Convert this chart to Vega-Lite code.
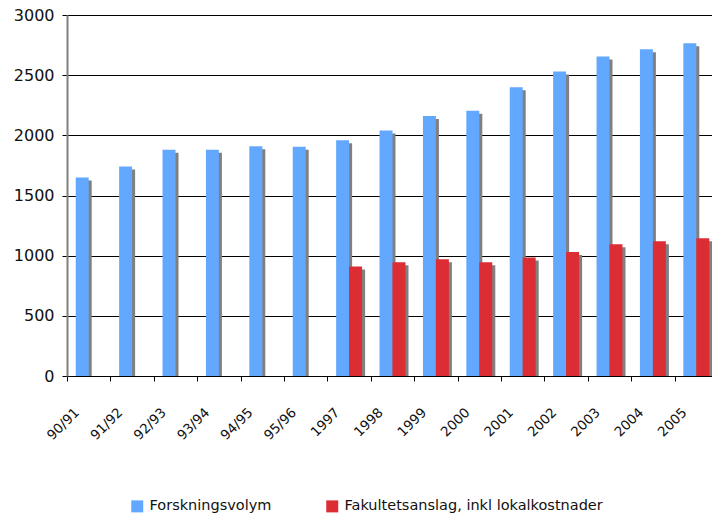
{
  "$schema": "https://vega.github.io/schema/vega-lite/v6.json",
  "autosize": "none",
  "padding": {"left": 67, "top": 15, "right": 0, "bottom": 147},
  "width": 651,
  "height": 361,
  "background": "white",
  "config": {"view": {"stroke": null}, "font": "DejaVu Sans"},
  "data": {"values": [
    {"year": "90/91", "series": "Forskningsvolym", "value": 1650},
    {"year": "91/92", "series": "Forskningsvolym", "value": 1740},
    {"year": "92/93", "series": "Forskningsvolym", "value": 1880},
    {"year": "93/94", "series": "Forskningsvolym", "value": 1880},
    {"year": "94/95", "series": "Forskningsvolym", "value": 1910},
    {"year": "95/96", "series": "Forskningsvolym", "value": 1905},
    {"year": "1997", "series": "Forskningsvolym", "value": 1960},
    {"year": "1998", "series": "Forskningsvolym", "value": 2040},
    {"year": "1999", "series": "Forskningsvolym", "value": 2160},
    {"year": "2000", "series": "Forskningsvolym", "value": 2205},
    {"year": "2001", "series": "Forskningsvolym", "value": 2400},
    {"year": "2002", "series": "Forskningsvolym", "value": 2530},
    {"year": "2003", "series": "Forskningsvolym", "value": 2655},
    {"year": "2004", "series": "Forskningsvolym", "value": 2715},
    {"year": "2005", "series": "Forskningsvolym", "value": 2765},
    {"year": "1997", "series": "Fakultetsanslag, inkl lokalkostnader", "value": 910},
    {"year": "1998", "series": "Fakultetsanslag, inkl lokalkostnader", "value": 945},
    {"year": "1999", "series": "Fakultetsanslag, inkl lokalkostnader", "value": 970},
    {"year": "2000", "series": "Fakultetsanslag, inkl lokalkostnader", "value": 945},
    {"year": "2001", "series": "Fakultetsanslag, inkl lokalkostnader", "value": 985},
    {"year": "2002", "series": "Fakultetsanslag, inkl lokalkostnader", "value": 1030},
    {"year": "2003", "series": "Fakultetsanslag, inkl lokalkostnader", "value": 1095},
    {"year": "2004", "series": "Fakultetsanslag, inkl lokalkostnader", "value": 1120},
    {"year": "2005", "series": "Fakultetsanslag, inkl lokalkostnader", "value": 1145}
  ]},
  "encoding": {
    "x": {
      "field": "year", "type": "nominal", "sort": null,
      "scale": {"paddingInner": 0, "paddingOuter": 0},
      "axis": {
        "title": null, "tickBand": "extent", "labelAngle": -45, "labelAlign": "right",
        "labelBaseline": "middle", "labelFontSize": 13.5, "labelPadding": 29, "labelOffset": -12,
        "tickSize": 5, "tickColor": "#000", "domainColor": "#000", "labelColor": "#111", "grid": false
      }
    },
    "y": {
      "field": "value", "type": "quantitative", "stack": null,
      "scale": {"domain": [0, 3000], "nice": false},
      "axis": {
        "title": null, "values": [0, 500, 1000, 1500, 2000, 2500, 3000], "format": "d",
        "tickSize": 5, "tickColor": "#000", "domainColor": "#808080", "domainWidth": 2,
        "gridColor": "#000", "gridWidth": 1, "labelFontSize": 16, "labelPadding": 8, "labelColor": "#111"
      }
    }
  },
  "layer": [
    {
      "transform": [{"filter": "datum.series === 'Forskningsvolym'"}],
      "mark": {"type": "bar", "color": "#808080", "width": {"band": 0.3}, "xOffset": -3.5, "yOffset": 3, "y2Offset": 0}
    },
    {
      "transform": [{"filter": "datum.series !== 'Forskningsvolym'"}],
      "mark": {"type": "bar", "color": "#808080", "width": {"band": 0.3}, "xOffset": 9.5, "yOffset": 3, "y2Offset": 0}
    },
    {
      "mark": {"type": "bar"},
      "encoding": {
        "xOffset": {
          "field": "series", "type": "nominal",
          "sort": ["Forskningsvolym", "Fakultetsanslag, inkl lokalkostnader"],
          "scale": {"paddingInner": 0, "paddingOuter": 0.673}
        },
        "color": {
          "field": "series", "type": "nominal",
          "sort": ["Forskningsvolym", "Fakultetsanslag, inkl lokalkostnader"],
          "scale": {"domain": ["Forskningsvolym", "Fakultetsanslag, inkl lokalkostnader"], "range": ["#63A8FF", "#DD2D34"]},
          "legend": {
            "orient": "none", "legendX": 63, "legendY": 484, "direction": "horizontal", "title": null,
            "symbolType": "square", "symbolSize": 144, "symbolStrokeWidth": 0, "labelFontSize": 14.5,
            "labelOffset": 5, "columnPadding": 53, "labelLimit": 400, "labelColor": "#111"
          }
        }
      }
    }
  ]
}
